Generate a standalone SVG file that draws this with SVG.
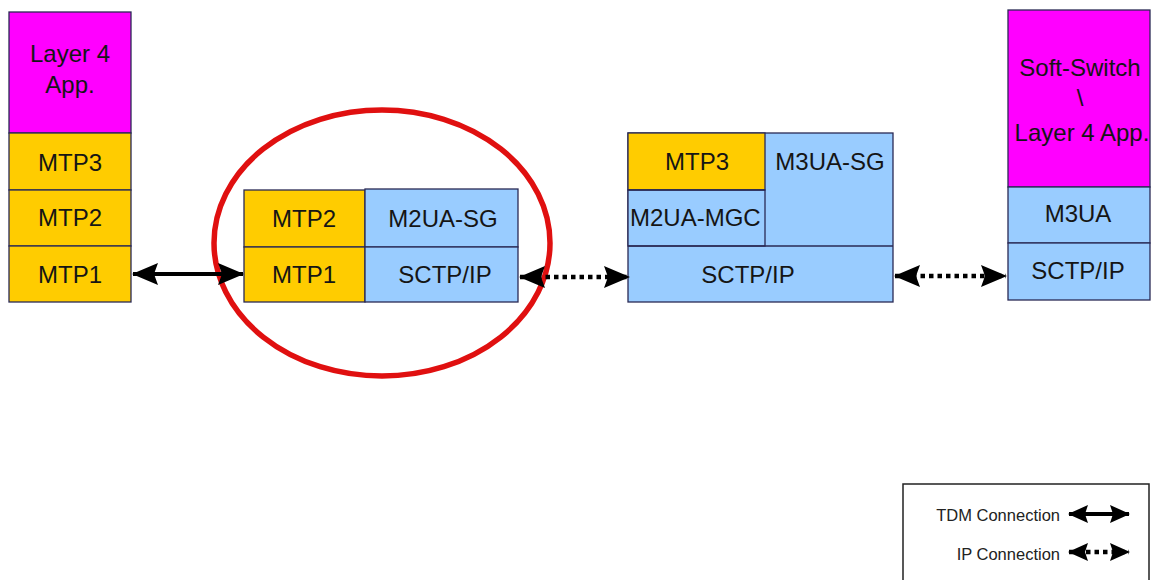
<svg xmlns="http://www.w3.org/2000/svg" width="1155" height="580" viewBox="0 0 1155 580">
<defs>
<style>
.c{stroke:#2a2a55;stroke-width:1.3}
.m{fill:#ff00ff}
.y{fill:#ffcc00}
.b{fill:#99ccff}
.t{font-family:"Liberation Sans",Arial,sans-serif;font-size:24px;fill:#151515;text-anchor:middle}
.l{font-family:"Liberation Sans",Arial,sans-serif;font-size:16.5px;fill:#222;text-anchor:end}
.tdm{stroke:#000;stroke-width:4;fill:none}
.ip{stroke:#000;stroke-width:4.5;fill:none;stroke-dasharray:4.5 4}
</style>
<marker id="ah" markerUnits="userSpaceOnUse" viewBox="0 0 26 22" refX="25" refY="11" markerWidth="26" markerHeight="22" orient="auto-start-reverse">
<path d="M0,0 L26,11 L0,22 L4,11 Z" fill="#000"/>
</marker>
<marker id="ahs" markerUnits="userSpaceOnUse" viewBox="0 0 20 18" refX="19" refY="9" markerWidth="20" markerHeight="18" orient="auto-start-reverse">
<path d="M0,0 L20,9 L0,18 L3,9 Z" fill="#000"/>
</marker>
</defs>
<rect width="1155" height="580" fill="#fff"/>

<g id="left-stack">
<rect class="c m" x="9" y="12" width="122" height="121"/>
<rect class="c y" x="9" y="133" width="122" height="57"/>
<rect class="c y" x="9" y="190" width="122" height="56"/>
<rect class="c y" x="9" y="246" width="122" height="56"/>
<text class="t" x="70" y="62">Layer 4</text>
<text class="t" x="70" y="93">App.</text>
<text class="t" x="70" y="171">MTP3</text>
<text class="t" x="70" y="226">MTP2</text>
<text class="t" x="70" y="283">MTP1</text>
</g>

<g id="sg-stack">
<rect class="c y" x="244" y="190" width="121" height="57"/>
<rect class="c y" x="244" y="247" width="121" height="55"/>
<rect class="c b" x="365" y="189" width="153" height="58"/>
<rect class="c b" x="365" y="247" width="153" height="55"/>
<text class="t" x="304" y="227">MTP2</text>
<text class="t" x="304" y="283">MTP1</text>
<text class="t" x="443" y="227">M2UA-SG</text>
<text class="t" x="445" y="283">SCTP/IP</text>
</g>

<g id="highlight">
<ellipse cx="382" cy="243" rx="168" ry="133" fill="none" stroke="#e01010" stroke-width="5.5"/>
</g>

<g id="mgc-stack">
<rect class="c b" x="628" y="133" width="265" height="169"/>
<rect class="c y" x="628" y="133" width="137" height="57"/>
<rect class="c b" x="628" y="190" width="137" height="56"/>
<line class="c" x1="628" y1="190" x2="765" y2="190" stroke-width="2"/>
<line class="c" x1="628" y1="246" x2="893" y2="246"/>
<text class="t" x="697" y="170">MTP3</text>
<text class="t" x="830" y="170">M3UA-SG</text>
<text class="t" x="630" y="226" style="text-anchor:start">M2UA-MGC</text>
<text class="t" x="748" y="283">SCTP/IP</text>
</g>

<g id="mgc-right-stack">
<rect class="c m" x="1008" y="10" width="142" height="177"/>
<rect class="c b" x="1008" y="187" width="142" height="56"/>
<rect class="c b" x="1008" y="243" width="142" height="57"/>
<text class="t" x="1080" y="76">Soft-Switch</text>
<text class="t" x="1080" y="106">\</text>
<text class="t" x="1082" y="141">Layer 4 App.</text>
<text class="t" x="1078" y="222">M3UA</text>
<text class="t" x="1078" y="279">SCTP/IP</text>
</g>

<g id="connectors">
<line class="tdm" x1="133" y1="274" x2="243" y2="274" marker-start="url(#ah)" marker-end="url(#ah)"/>
<line class="ip" x1="520" y1="277" x2="629" y2="277" marker-start="url(#ah)" marker-end="url(#ah)"/>
<line class="ip" x1="895" y1="276" x2="1006" y2="276" marker-start="url(#ah)" marker-end="url(#ah)"/>
</g>

<g id="legend">
<rect x="903" y="484" width="246" height="110" fill="#fff" stroke="#222" stroke-width="1.5"/>
<text class="l" x="1060" y="521">TDM Connection</text>
<text class="l" x="1060" y="560">IP Connection</text>
<line class="tdm" x1="1069" y1="514" x2="1129" y2="514" stroke-width="3.5" marker-start="url(#ahs)" marker-end="url(#ahs)"/>
<line class="ip" x1="1069" y1="552" x2="1129" y2="552" stroke-width="4" marker-start="url(#ahs)" marker-end="url(#ahs)"/>
</g>
</svg>
